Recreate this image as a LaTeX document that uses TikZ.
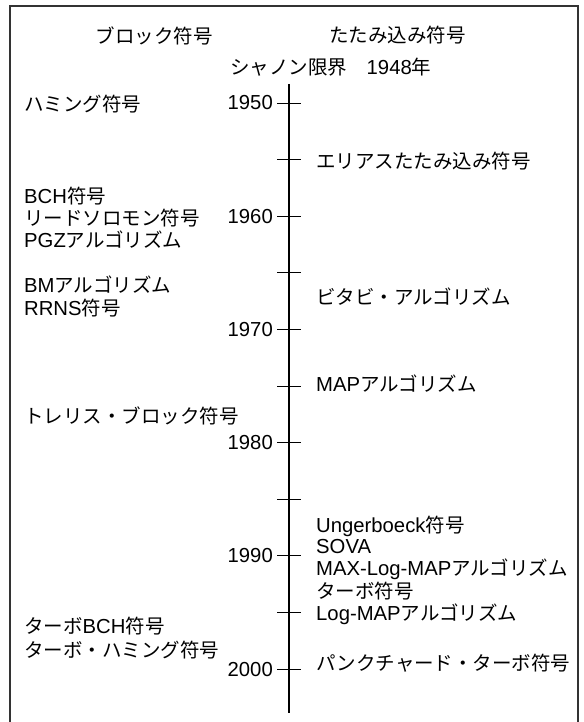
\documentclass[tikz,border=0pt]{standalone}
\usepackage{fontspec}
\setmainfont{Liberation Sans}[Scale=1.04]
\newfontfamily\jp{Noto Sans CJK JP}
\newcommand{\J}[1]{{\jp #1}}
\begin{document}
\begin{tikzpicture}[x=1pt,y=-1pt,
  txt/.style={inner sep=0pt, font=\fontsize{19.5}{22}\selectfont},
  lt/.style={txt, anchor=base west},
  yr/.style={txt, anchor=base east},
  hd/.style={txt, anchor=base},
  frameline/.style={line width=1.4pt, draw=black!80},
  axisline/.style={line width=2pt},
  tickline/.style={line width=0.9pt}]
\useasboundingbox (0,0) rectangle (583,722);
\draw[frameline] (10,722) -- (10,6) -- (578,6) -- (578,722);
% axis
\coordinate (axtop) at (289,84);
\coordinate (axbot) at (289,713);
\draw[axisline] (axtop) -- (axbot);
\foreach \i in {0,...,10} {
  \pgfmathsetmacro\yy{103+56.6*\i}
  \coordinate (tl\i) at (277,\yy);
  \coordinate (tr\i) at (301,\yy);
  \draw[tickline] (tl\i) -- (tr\i);
}
% years
\node[yr] (y1950) at (273,110) {1950};
\node[yr] (y1960) at (273,223.2) {1960};
\node[yr] (y1970) at (273,336.4) {1970};
\node[yr] (y1980) at (273,449.6) {1980};
\node[yr] (y1990) at (273,562.8) {1990};
\node[yr] (y2000) at (273,676) {2000};
% headers
\node[hd] (hblock) at (154,43.5) {\J{ブロック符号}};
\node[hd] (hconv) at (397.5,43) {\J{たたみ込み符号}};
\node[lt] (shannon) at (230,75) {\J{シャノン限界　}1948\J{年}};
% left
\node[lt] (hamming) at (24,112) {\J{ハミング符号}};
\node[lt] (bch) at (24,203) {BCH\J{符号}};
\node[lt] (rs) at (24,225) {\J{リードソロモン符号}};
\node[lt] (pgz) at (24,247.7) {PGZ\J{アルゴリズム}};
\node[lt] (bm) at (24,292.7) {BM\J{アルゴリズム}};
\node[lt] (rrns) at (24,315) {RRNS\J{符号}};
\node[lt] (trellis) at (24,423) {\J{トレリス・ブロック符号}};
\node[lt] (tbch) at (24,633.7) {\J{ターボ}BCH\J{符号}};
\node[lt] (thamming) at (24,657) {\J{ターボ・ハミング符号}};
% right
\node[lt] (elias) at (316,169) {\J{エリアスたたみ込み符号}};
\node[lt] (viterbi) at (316,304) {\J{ビタビ・アルゴリズム}};
\node[lt] (map) at (316,391) {MAP\J{アルゴリズム}};
\node[lt] (ungerboeck) at (316,532) {Ungerboeck\J{符号}};
\node[lt] (sova) at (316,553.7) {SOVA};
\node[lt] (maxlog) at (316,575) {MAX-Log-MAP\J{アルゴリズム}};
\node[lt] (turbo) at (316,598) {\J{ターボ符号}};
\node[lt] (logmap) at (316,620) {Log-MAP\J{アルゴリズム}};
\node[lt] (punct) at (316,670) {\J{パンクチャード・ターボ符号}};
\end{tikzpicture}
\end{document}
